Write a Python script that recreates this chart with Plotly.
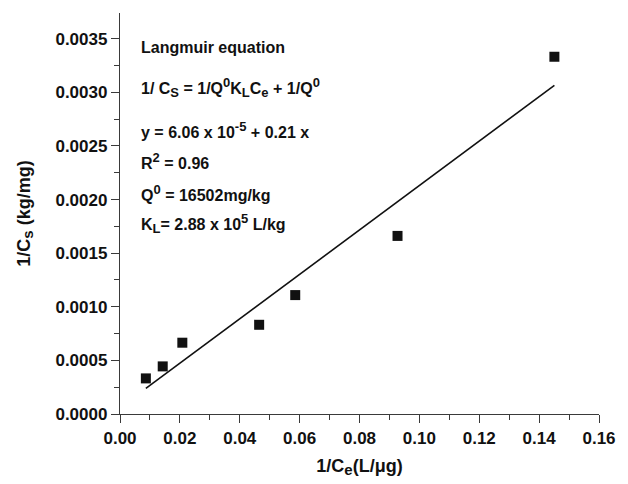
import numpy as np
import plotly.graph_objects as go

# Langmuir linearisation: 1/Ce versus 1/Cs
inv_ce = [0.00864, 0.01427, 0.02082, 0.04648, 0.05853, 0.0927, 0.1451]
inv_cs = [0.000332, 0.000444, 0.000665, 0.000832, 0.001109, 0.001661, 0.003332]

# fitted straight line (intercept as reported, slope of the drawn fit)
fit_intercept = 6.06e-5
fit_slope = 0.0207

x_ticks = [0.00, 0.02, 0.04, 0.06, 0.08, 0.10, 0.12, 0.14, 0.16]
y_ticks = [0.0000, 0.0005, 0.0010, 0.0015, 0.0020, 0.0025, 0.0030, 0.0035]


def sub(s, px=13):
    return f"<sub><span style='font-size:{px}px'>{s}</span></sub>"


def sup(s, px=13):
    return f"<sup><span style='font-size:{px}px'>{s}</span></sup>"


info_lines = [
    "Langmuir equation",
    f"1/ C{sub('S')} = 1/Q{sup('0')}K{sub('L')}C{sub('e')} + 1/Q{sup('0')}",
    f"y = 6.06 x 10{sup('-5')} + 0.21 x",
    f"R{sup('2')} = 0.96",
    f"Q{sup('0')} = 16502mg/kg",
    f"K{sub('L')}= 2.88 x 10{sup('5')} L/kg",
]
info_y = [0.914, 0.813, 0.709, 0.632, 0.552, 0.475]

FONT = "Liberation Sans"
INK = "#111111"
AXIS = "#3a3a3a"

fit_x = np.array([min(inv_ce), max(inv_ce)])
fit_y = fit_intercept + fit_slope * fit_x

fig = go.Figure()
fig.add_trace(go.Scatter(
    x=fit_x, y=fit_y, mode="lines",
    line=dict(color=INK, width=1.6), showlegend=False, hoverinfo="skip",
))
fig.add_trace(go.Scatter(
    x=inv_ce, y=inv_cs, mode="markers",
    marker=dict(symbol="square", size=10, color=INK), showlegend=False,
))

for text, yy in zip(info_lines, info_y):
    fig.add_annotation(
        x=0.04, y=yy, xref="paper", yref="paper",
        xanchor="left", yanchor="middle", showarrow=False,
        text=text, font=dict(family=FONT, size=16, color=INK, weight="bold"),
    )

axis_common = dict(
    showline=True, linecolor=AXIS, linewidth=1.3,
    showgrid=False, zeroline=False,
    ticks="outside", ticklen=8, tickwidth=1.3, tickcolor=AXIS,
    tickfont=dict(family=FONT, size=17, color=INK, weight="bold"),
    mirror=False,
)

fig.update_layout(
    width=628, height=484,
    margin=dict(l=120, r=19, t=13, b=69),
    paper_bgcolor="white", plot_bgcolor="white",
    xaxis=dict(
        range=[0, 0.16], tickvals=x_ticks, tickformat=".2f",
        minor=dict(dtick=0.01, tick0=0, ticks="outside", ticklen=5, tickwidth=1.2, tickcolor=AXIS),
        title=dict(text=f"1/C{sub('e', 15)}(L/μg)", standoff=12,
                   font=dict(family=FONT, size=18, color=INK, weight="bold")),
        **axis_common,
    ),
    yaxis=dict(
        range=[0, 0.00374], tickvals=y_ticks, tickformat=".4f",
        minor=dict(dtick=0.00025, tick0=0, ticks="outside", ticklen=5, tickwidth=1.2, tickcolor=AXIS),
        title=dict(text=f"1/C{sub('s', 15)} (kg/mg)", standoff=20,
                   font=dict(family=FONT, size=18, color=INK, weight="bold")),
        **axis_common,
    ),
)

fig.write_html("out.html")
